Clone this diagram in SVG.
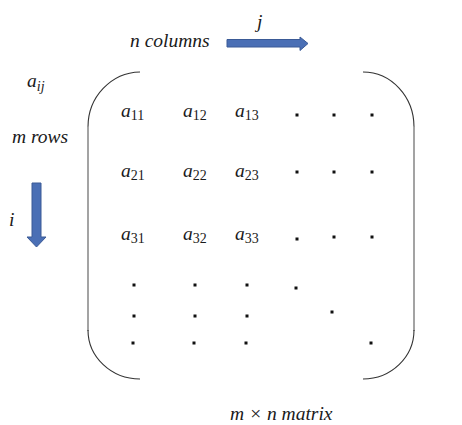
<svg xmlns="http://www.w3.org/2000/svg" width="462" height="425" viewBox="0 0 462 425">
<style>
.t{font-family:"Liberation Serif","DejaVu Serif",serif;font-style:italic;font-size:19.5px;fill:#1a1a1a}
.s{font-size:14px;font-style:normal}
.si{font-size:14px;font-style:italic}
.arc{fill:none;stroke:#333;stroke-width:1.1}
.vl{fill:none;stroke:#999;stroke-width:1.8}
.arrow{fill:#4a6fb5;stroke:#3a5a96;stroke-width:1}
.dot{fill:#111}
</style>
<defs>
<rect id="d" class="dot" x="-1.5" y="-1.5" width="3" height="3"/>
</defs>
<rect width="462" height="425" fill="#fff"/>

<g id="labels">
<text class="t" x="130" y="47">n columns</text>
<text class="t" x="257" y="28">j</text>
<text class="t" x="27" y="87">a<tspan class="si" dy="4">ij</tspan></text>
<text class="t" x="12" y="143">m rows</text>
<text class="t" x="9" y="226">i</text>
<text class="t" x="230" y="420">m × n matrix</text>
</g>

<g id="brackets">
<path class="arc" d="M140,72 A53,55 0 0 0 88,127"/>
<path class="vl" d="M88,126 V331"/>
<path class="arc" d="M88,330 A52,49 0 0 0 140,379"/>
<path class="arc" d="M363,72 A51,55 0 0 1 414,127"/>
<path class="vl" d="M414,126 V331"/>
<path class="arc" d="M414,330 A51,49 0 0 1 363,379"/>
</g>

<g id="entries">
<text class="t" x="121" y="117">a<tspan class="s" dy="3">11</tspan></text>
<text class="t" x="183" y="117">a<tspan class="s" dy="3">12</tspan></text>
<text class="t" x="235" y="117">a<tspan class="s" dy="3">13</tspan></text>
<text class="t" x="121" y="177">a<tspan class="s" dy="3">21</tspan></text>
<text class="t" x="183" y="177">a<tspan class="s" dy="3">22</tspan></text>
<text class="t" x="235" y="177">a<tspan class="s" dy="3">23</tspan></text>
<text class="t" x="121" y="240">a<tspan class="s" dy="3">31</tspan></text>
<text class="t" x="183" y="240">a<tspan class="s" dy="3">32</tspan></text>
<text class="t" x="235" y="240">a<tspan class="s" dy="3">33</tspan></text>
</g>

<g id="dots">
<use href="#d" x="297" y="115"/><use href="#d" x="334" y="115"/><use href="#d" x="372" y="115"/>
<use href="#d" x="297" y="172"/><use href="#d" x="334" y="172"/><use href="#d" x="372" y="172"/>
<use href="#d" x="297" y="239"/><use href="#d" x="334" y="237"/><use href="#d" x="372" y="237"/>
<use href="#d" x="134" y="285"/><use href="#d" x="195" y="285"/><use href="#d" x="247" y="285"/>
<use href="#d" x="134" y="316"/><use href="#d" x="195" y="316"/><use href="#d" x="247" y="316"/>
<use href="#d" x="133" y="343"/><use href="#d" x="194" y="343"/><use href="#d" x="246" y="343"/>
<use href="#d" x="296" y="288"/><use href="#d" x="332" y="312"/><use href="#d" x="371" y="343"/>
</g>

<g id="connectors">
<path class="arrow" d="M227,39.5 H300 V37 L308,43.5 L300,50.5 V47 H227 Z"/>
<path class="arrow" d="M32,183 H41 V237 H46 L36.5,247 L27,237 H32 Z"/>
</g>
</svg>
